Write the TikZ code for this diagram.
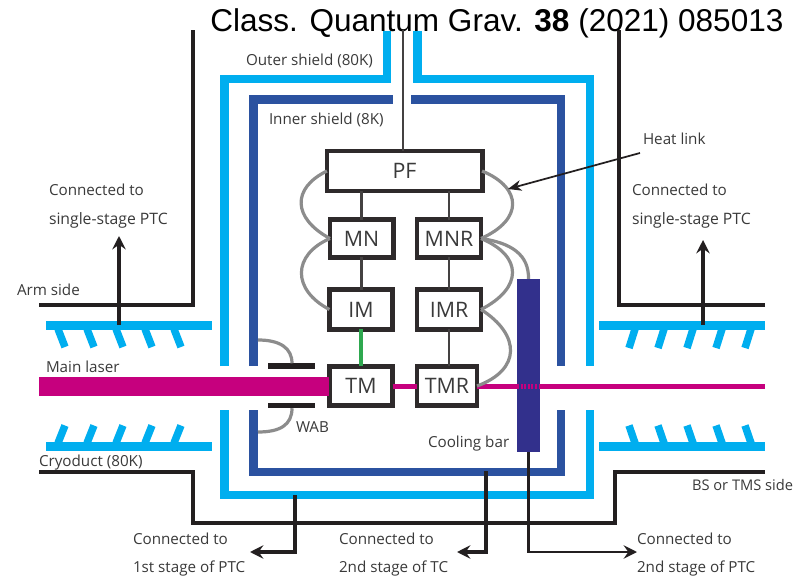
\documentclass[tikz,border=0pt]{standalone}
\usepackage{fontspec}
\setmainfont{Open Sans}
\newfontfamily\hdr{Liberation Sans}
\usetikzlibrary{arrows.meta}
\definecolor{outerc}{HTML}{00AEEF}
\definecolor{innerc}{HTML}{2B52A0}
\definecolor{barc}{HTML}{32308C}
\definecolor{laserc}{HTML}{C6007E}
\definecolor{greenc}{HTML}{2EA84F}
\definecolor{inkc}{HTML}{231F20}
\definecolor{textc}{HTML}{3A3A3A}
\definecolor{linkc}{HTML}{8C8C8C}
\tikzset{
  outershield/.style={draw=outerc,line width=6.6pt,miter limit=10},
  innershield/.style={draw=innerc,line width=6.4pt},
  plate/.style={draw=outerc,line width=6.6pt},
  tooth/.style={draw=outerc,line width=5.6pt},
  duct/.style={draw=inkc,line width=2.6pt},
  rod/.style={draw=inkc!85,line width=1.6pt},
  tie/.style={draw=inkc,line width=2.7pt,-{Stealth[length=10pt,width=10pt,inset=3.5pt]}},
  tiethin/.style={draw=inkc,line width=2pt,-{Stealth[length=10pt,width=10pt,inset=3.5pt]}},
  heatlink/.style={draw=linkc,line width=2.4pt},
  beam/.style={draw=laserc,line width=3.2pt},
  mirror/.style={draw=inkc!95,line width=3.7pt,fill=white,inner sep=0pt,outer sep=0pt,text=textc,font=\fontsize{16}{18}\selectfont},
  wabbar/.style={draw=none,fill=inkc,inner sep=0pt,outer sep=0pt,minimum width=35.2pt,minimum height=4.1pt},
  lab/.style={anchor=base west,inner sep=0pt,outer sep=0pt,text=textc,font=\fontsize{11.4}{13}\selectfont},
  labwide/.style={lab,font=\fontsize{11.8}{13}\selectfont},
  labnarrow/.style={lab,font=\fontsize{11}{13}\selectfont},
}
\begin{document}
\begin{tikzpicture}[x=0.75pt,y=-0.75pt]
\useasboundingbox (0,0) rectangle (796,577);
\fill[white] (0,0) rectangle (796,577);
% header
\node[anchor=base west,inner sep=0pt,font=\hdr\fontsize{23.65}{26}\selectfont] (hdr) at (210,32) {Class. Quantum Grav. \textbf{38} (2021) 085013};
% named free ends
\coordinate (rodtop) at (403,30);
\coordinate (laserstart) at (39,386.5);
\coordinate (beamend) at (765,386.5);
% shields
\draw[outershield] (224.5,366) -- (224.5,79) -- (387,79) -- (387,31);
\draw[outershield] (417.5,31) -- (417.5,79) -- (590,79) -- (590,366);
\draw[outershield] (224.5,410) -- (224.5,495) -- (590,495) -- (590,410);
\draw[innershield] (253.5,366) -- (253.5,99.5) -- (393,99.5);
\draw[innershield] (411,99.5) -- (561,99.5) -- (561,366);
\draw[innershield] (253.5,410) -- (253.5,472) -- (561,472) -- (561,410);
% cryoduct walls
\draw[duct] (39,305) -- (193,305) -- (193,30);
\draw[duct] (765,305) -- (619,305) -- (619,30);
\draw[duct] (39,472) -- (193,472) -- (193,523) -- (615,523) -- (615,472) -- (765,472);
% baffles
\draw[plate] (46,325.5) -- (212,325.5);
\draw[plate] (46,446.5) -- (212,446.5);
\draw[plate] (599,325.5) -- (765,325.5);
\draw[plate] (599,446.5) -- (765,446.5);
\foreach \i in {0,...,4}{
  \draw[tooth] ({58+29*\i},329) -- ({65+29*\i},347);
  \draw[tooth] ({58+29*\i},443) -- ({65+29*\i},425.5);
  \draw[tooth] ({635+29*\i},329) -- ({629+29*\i},348);
  \draw[tooth] ({635+29*\i},443) -- ({629+29*\i},425.5);
}
% mirrors
\node[mirror,minimum width=116.3pt,minimum height=30pt] (pf) at (404.5,171) {PF};
\node[mirror,minimum width=47.3pt,minimum height=28pt] (mn) at (361.5,238.5) {MN};
\node[mirror,minimum width=48pt,minimum height=28pt] (mnr) at (449,238.5) {MNR};
\node[mirror,minimum width=47.3pt,minimum height=29.3pt] (im) at (361,309.5) {IM};
\node[mirror,minimum width=48pt,minimum height=29.3pt] (imr) at (449,309.5) {IMR};
\node[mirror,minimum width=47.3pt,minimum height=29.5pt] (tm) at (361,386) {TM};
\node[mirror,minimum width=45pt,minimum height=29.5pt] (tmr) at (447,386) {TMR};
\node[wabbar] (wabu) at (291.5,366) {};
\node[wabbar] (wabl) at (291.5,405.5) {};
% beams
\draw[laserc,line width=14.4pt] (laserstart) -- (tm.west |- laserstart);
\draw[beam] (tm.east |- beamend) -- (tmr.west |- beamend);
\draw[beam] (tmr.east |- beamend) -- (beamend);
% suspension
\draw[rod] (rodtop) -- (rodtop |- pf.north);
\draw[rod] (pf.south -| mn.north) -- (mn.north);
\draw[rod] (pf.south -| mnr.north) -- (mnr.north);
\draw[rod] (mn.south) -- (mn.south |- im.north);
\draw[rod] (mnr.south) -- (imr.north);
\draw[rod] (imr.south) -- (tmr.north -| imr.south);
\draw[greenc,line width=2.6pt] (im.south) -- (tm.north);
% cooling bar
\node[draw=none,fill=barc,inner sep=0pt,outer sep=0pt,minimum width=17.4pt,minimum height=129.8pt] (bar) at (528.5,365.5) {};
\draw[beam,dash pattern=on 1.5pt off 1.2pt] (bar.west |- beamend) -- (bar.east |- beamend);
% heat links
\draw[heatlink] (pf.west) .. controls (292,188) and (292,218) .. (mn.west);
\draw[heatlink] (mn.west) .. controls (292,255) and (292,290) .. (im.west);
\draw[heatlink] (pf.east) .. controls (523,188) and (523,220) .. (mnr.east);
\draw[heatlink] (mnr.east) .. controls (523,256) and (523,288) .. (imr.east);
\draw[heatlink] (mnr.east) .. controls (512,243) and (529,255) .. (bar.north);
\draw[heatlink] (imr.east) .. controls (521,335) and (521,370) .. (tmr.east);
\draw[heatlink] (258,340) .. controls (280,340) and (292,348) .. (wabu.north -| 292,363);
\draw[heatlink] (258,432) .. controls (280,432) and (292,425) .. (wabl.south -| 292,408);
% connectors
\coordinate (hl) at (640,153);
\coordinate (hlend) at (508,189);
\draw[draw=inkc,line width=1.3pt,-{Stealth[length=10pt,width=8pt,inset=3pt]}] (hl) -- (hlend);
\coordinate (sl) at (119,325); \coordinate (sle) at (119,236);
\coordinate (sr) at (703,325); \coordinate (sre) at (703,240);
\draw[tie] (sl) -- (sle);
\draw[tie] (sr) -- (sre);
\coordinate (c1) at (295,495); \coordinate (c1e) at (250,552);
\draw[tie] (c1) |- (c1e);
\coordinate (c2) at (486,471); \coordinate (c2e) at (457,552);
\draw[tie] (c2) |- (c2e);
\coordinate (c3e) at (637,552);
\draw[tiethin] (bar.south) |- (c3e);
% labels
\node[lab] (t1) at (246,66) {Outer shield (80K)};
\node[lab] (t2) at (269,125) {Inner shield (8K)};
\node[lab] (t3) at (643,145) {Heat link};
\node[lab] (t4) at (49,196) {Connected to};
\node[labwide] (t5) at (49,225) {single-stage PTC};
\node[lab] (t6) at (632,196) {Connected to};
\node[labwide] (t7) at (632,225) {single-stage PTC};
\node[lab] (t8) at (17,296) {Arm side};
\node[lab] (t9) at (46,372) {Main laser};
\node[lab] (t10) at (39,466) {Cryoduct (80K)};
\node[lab] (t11) at (296,432) {WAB};
\node[lab] (t12) at (428,447) {Cooling bar};
\node[labnarrow] (t13) at (692,490) {BS or TMS side};
\node[lab] (t14) at (133,544) {Connected to};
\node[lab] (t15) at (133,572) {1st stage of PTC};
\node[lab] (t16) at (339,544) {Connected to};
\node[lab] (t17) at (339,572) {2nd stage of TC};
\node[lab] (t18) at (637,544) {Connected to};
\node[lab] (t19) at (637,572) {2nd stage of PTC};
\end{tikzpicture}
\end{document}
